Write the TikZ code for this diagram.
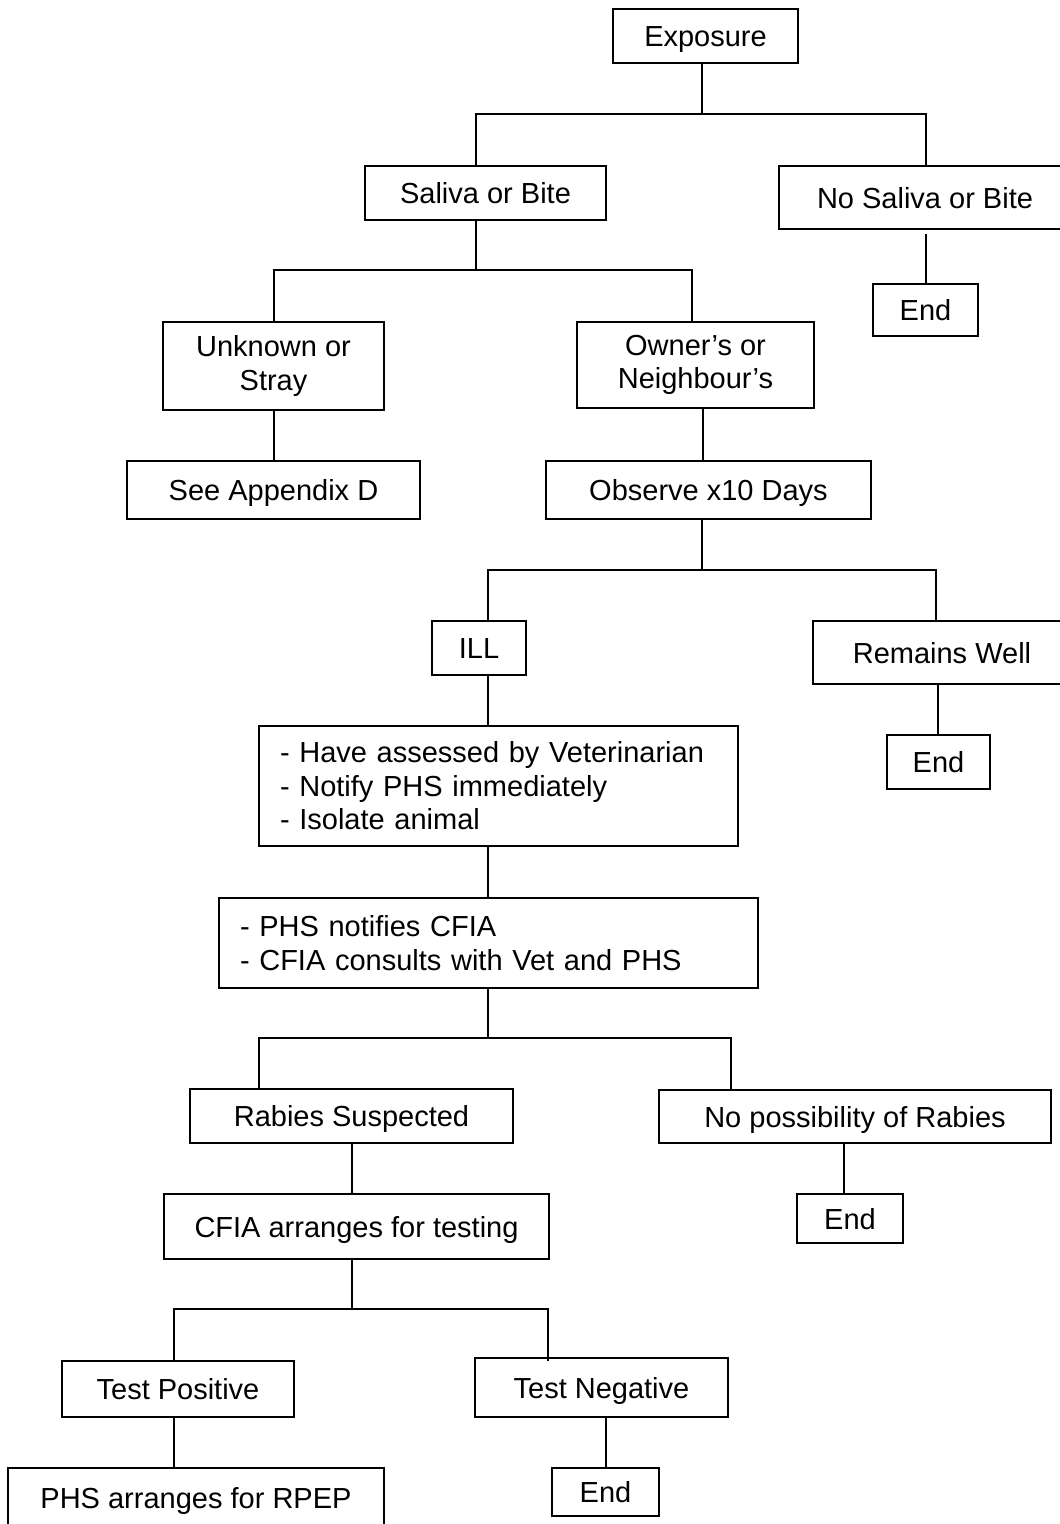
\documentclass[tikz,border=0pt]{standalone}
\usepackage{fontspec}
\setmainfont{Liberation Sans}
\begin{document}
\begin{tikzpicture}[x=1pt,y=-1pt,
  box/.style={draw, line width=1.8pt, inner sep=0pt, font=\fontsize{29}{33.5}\selectfont},
  one/.style={box, text height=21pt, text depth=0pt},
  two/.style={box, align=center},
  list/.style={box, align=left, inner xsep=21pt},
  wire/.style={line width=1.8pt}]
\useasboundingbox (0,0) rectangle (1060,1524);
\clip (0,0) rectangle (1060,1524);
% boxes
\node[one, minimum width=185, minimum height=54] (exp) at (705.5,36) {Exposure};
\node[one, minimum width=241, minimum height=54] (sal) at (485.5,193) {Saliva or Bite};
\node[one, minimum width=292, minimum height=63] (nosal) at (925,197.5) {No Saliva or Bite};
\node[one, minimum width=105, minimum height=52] (end1) at (925.5,310) {End};
\node[two, minimum width=221, minimum height=88] (unk) at (273.5,366) {Unknown or\\Stray};
\node[two, minimum width=237, minimum height=86] (own) at (695.5,365) {Owner’s or\\Neighbour’s};
\node[one, minimum width=293, minimum height=58] (app) at (273.5,490) {See Appendix D};
\node[one, minimum width=325, minimum height=58] (obs) at (708.5,490) {Observe x10 Days};
\node[one, minimum width=94, minimum height=54] (ill) at (479,648) {ILL};
\node[one, minimum width=258, minimum height=63] (well) at (942,652.5) {Remains Well};
\node[one, minimum width=103, minimum height=54] (end2) at (938.5,762) {End};
\node[list, text width=437pt, minimum height=120] (b1) at (498.5,786)
  {- Have assessed by Veterinarian\\- Notify PHS immediately\\- Isolate animal};
\node[list, text width=497pt, minimum height=90] (b2) at (488.5,943)
  {- PHS notifies CFIA\\- CFIA consults with Vet and PHS};
\node[one, minimum width=323, minimum height=54] (rab) at (351.5,1116) {Rabies Suspected};
\node[one, minimum width=392, minimum height=53] (nop) at (855,1116.5) {No possibility of Rabies};
\node[one, minimum width=106, minimum height=49] (end3) at (850,1218.5) {End};
\node[one, minimum width=385, minimum height=65] (cfia) at (356.5,1226.5) {CFIA arranges for testing};
\node[one, minimum width=232, minimum height=56] (pos) at (178,1389) {Test Positive};
\node[one, minimum width=253, minimum height=59] (neg) at (601.5,1387.5) {Test Negative};
\node[one, minimum width=376, minimum height=60] (rpep) at (196,1498) {PHS arranges for RPEP};
\node[one, minimum width=107, minimum height=48] (end4) at (605.5,1492) {End};
% junctions
\coordinate (j1) at (702,114); \coordinate (j1l) at (476,114); \coordinate (j1r) at (926,114);
\coordinate (j2) at (476,270); \coordinate (j2l) at (274,270); \coordinate (j2r) at (692,270);
\coordinate (x703) at (703,0);
\coordinate (j3) at (702,570); \coordinate (j3l) at (488,570); \coordinate (j3r) at (936,570);
\coordinate (x938) at (938,0);
\coordinate (j4) at (488,1038); \coordinate (j4l) at (259,1038); \coordinate (j4r) at (731,1038);
\coordinate (x844) at (844,0); \coordinate (x352) at (352,0);
\coordinate (j5) at (352,1309); \coordinate (j5l) at (174,1309); \coordinate (j5r) at (548,1309);
\coordinate (x174) at (174,0); \coordinate (x606) at (606,0); \coordinate (x926) at (926,0);
\coordinate (x274) at (274,0);
% connectors
\draw[wire] (exp.south -| j1) -- (j1);
\draw[wire] (j1l |- sal.north) -- (j1l) -- (j1r) -- (j1r |- nosal.north);
\draw[wire] ([yshift=-4pt]nosal.south -| x926) -- (end1.north -| x926);
\draw[wire] (sal.south -| j2) -- (j2);
\draw[wire] (j2l |- unk.north) -- (j2l) -- (j2r) -- (j2r |- own.north);
\draw[wire] (unk.south -| x274) -- (app.north -| x274);
\draw[wire] (own.south -| x703) -- (obs.north -| x703);
\draw[wire] (obs.south -| j3) -- (j3);
\draw[wire] (j3l |- ill.north) -- (j3l) -- (j3r) -- (j3r |- well.north);
\draw[wire] (well.south -| x938) -- (end2.north -| x938);
\draw[wire] (ill.south -| j4) -- (b1.north -| j4);
\draw[wire] (b1.south -| j4) -- (b2.north -| j4);
\draw[wire] (b2.south -| j4) -- (j4);
\draw[wire] (j4l |- rab.north) -- (j4l) -- (j4r) -- (j4r |- nop.north);
\draw[wire] (nop.south -| x844) -- (end3.north -| x844);
\draw[wire] (rab.south -| x352) -- (cfia.north -| x352);
\draw[wire] (cfia.south -| j5) -- (j5);
\draw[wire] (j5l |- pos.north) -- (j5l) -- (j5r) -- ([yshift=-4pt]j5r |- neg.north);
\draw[wire] (pos.south -| x174) -- (rpep.north -| x174);
\draw[wire] (neg.south -| x606) -- (end4.north -| x606);
\end{tikzpicture}
\end{document}
